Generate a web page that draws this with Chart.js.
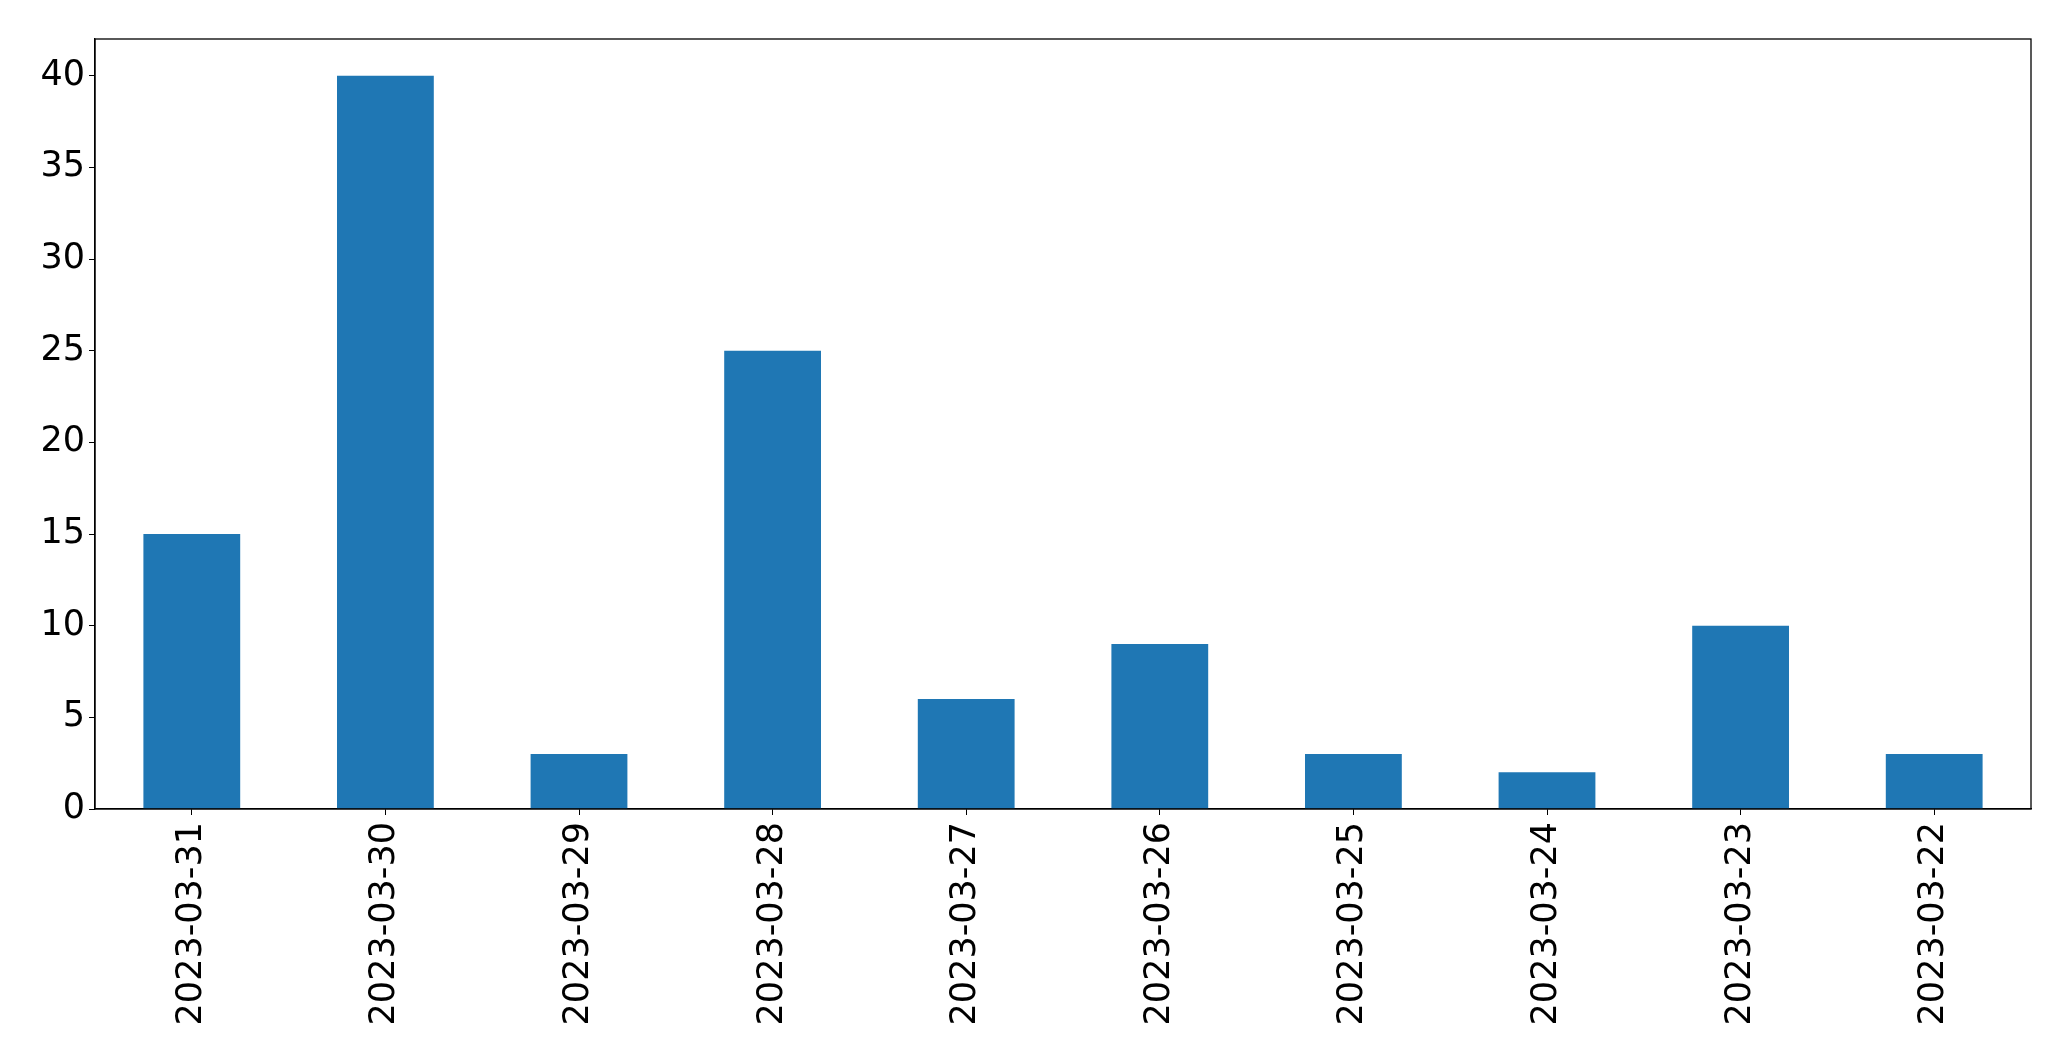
<!DOCTYPE html>
<html>
<head>
<meta charset="utf-8">
<script src="https://cdn.jsdelivr.net/npm/chart.js@4/dist/chart.umd.min.js"></script>
<style>
  html, body { margin: 0; padding: 0; background: #fff; }
  #wrap { width: 2071px; height: 1061px; }
</style>
</head>
<body>
<div id="wrap"><canvas id="chart-1"></canvas></div>
<script>
const dates = ['2023-03-31', '2023-03-30', '2023-03-29', '2023-03-28', '2023-03-27',
               '2023-03-26', '2023-03-25', '2023-03-24', '2023-03-23', '2023-03-22'];
const counts = [15, 40, 3, 25, 6, 9, 3, 2, 10, 3];
const yMax = 42;
const yStep = 5;

// matplotlib-style frame round the plot area
const frame = {
    id: 'frame',
    afterDraw(chart) {
        const a = chart.chartArea;
        const c = chart.ctx;
        c.save();
        c.strokeStyle = '#000';
        c.lineWidth = 1.3;
        c.strokeRect(a.left, a.top, a.right - a.left, a.bottom - a.top);
        c.restore();
    }
};

const ctx1 = document.getElementById("chart-1").getContext("2d");
const myChart = new Chart(ctx1, {
    type: 'bar',
    data: {
        labels: dates,
        datasets: [{
            data: counts,
            backgroundColor: '#1f77b4',
            barPercentage: 0.5,
            categoryPercentage: 1.0,
        }],
    },
    options: {
        responsive: true,
        maintainAspectRatio: false,
        animation: false,
        layout: { padding: { top: 39, right: 40, left: 0, bottom: 0 } },
        plugins: {
            legend: { display: false },
            tooltip: { enabled: false },
        },
        scales: {
            x: {
                offset: true,
                grid: { drawOnChartArea: false, drawTicks: true, tickLength: 6, color: '#000', offset: false },
                border: { color: '#000', width: 1.3 },
                ticks: {
                    color: '#000',
                    font: { family: 'DejaVu Sans', size: 35 },
                    maxRotation: 90,
                    minRotation: 90,
                    padding: 7,
                    autoSkip: false,
                },
                afterFit(scale) { scale.height = 252; },
            },
            y: {
                min: 0,
                max: yMax,
                grid: { drawOnChartArea: false, drawTicks: true, tickLength: 6, color: '#000' },
                border: { color: '#000', width: 1.3 },
                ticks: {
                    stepSize: yStep,
                    includeBounds: false,
                    color: '#000',
                    font: { family: 'DejaVu Sans', size: 35 },
                    padding: 4,
                },
                afterFit(scale) { scale.width = 95; },
            },
        },
    },
    plugins: [frame],
});
</script>
</body>
</html>
